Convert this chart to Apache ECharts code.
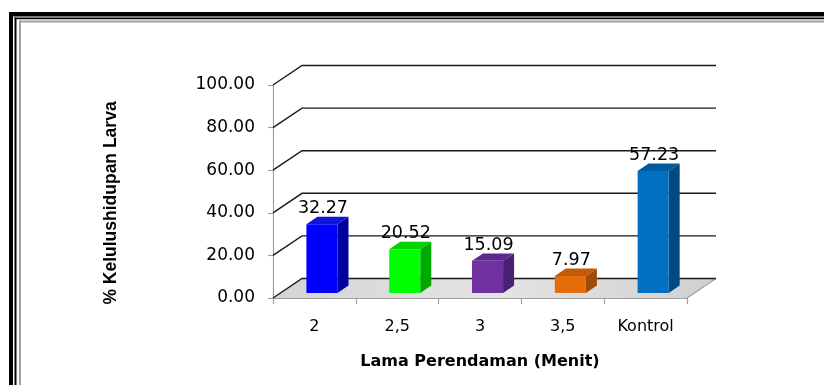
<!DOCTYPE html>
<html>
<head>
<meta charset="utf-8">
<script src="https://cdn.jsdelivr.net/npm/echarts@6/dist/echarts.min.js"></script>
<style>
  html, body { margin: 0; padding: 0; background: #ffffff; }
  #chart { width: 824px; height: 385px; }
</style>
</head>
<body>
<div id="chart"></div>
<script>
// Larva survival (%) by soaking time
const categories = ['2', '2,5', '3', '3,5', 'Kontrol'];
const survival = [32.27, 20.52, 15.09, 7.97, 57.23];
const yTicks = [0, 20, 40, 60, 80, 100];
const yTitle = '% Kelulushidupan Larva';
const xTitle = 'Lama Perendaman (Menit)';

// bar palette: front face, side face, top face
const faceColors = ['#0000ff', '#00ff00', '#7030a0', '#e46c0a', '#0070c0'];
const sideColors = ['#00009e', '#00a800', '#4a2070', '#a04c06', '#004a80'];
const topColors  = ['#1414d6', '#00d400', '#5e2890', '#c25a08', '#005c9e'];

// oblique depth of the plot box (back wall offset from front)
const DEPTH_X = 29;
const DEPTH_Y = -19.5;
const BAR_FRONT = 0.26;  // bar front face depth fraction
const BAR_BACK = 0.64;   // bar back face depth fraction
const BAR_WIDTH = 0.375; // share of a category band

const chart = echarts.init(document.getElementById('chart'), null, { renderer: 'canvas' });

function renderFloor(params, api) {
  const cs = params.coordSys;
  const y0 = api.coord([0, 0])[1];
  const xl = cs.x, xr = cs.x + cs.width;
  return {
    type: 'group',
    children: [
      {
        type: 'polygon',
        shape: { points: [[xl, y0], [xr, y0], [xr + DEPTH_X, y0 + DEPTH_Y], [xl + DEPTH_X, y0 + DEPTH_Y]] },
        style: {
          fill: new echarts.graphic.LinearGradient(0, 0, 1, 1, [
            { offset: 0, color: '#d4d4d4' },
            { offset: 0.5, color: '#e4e4e4' },
            { offset: 1, color: '#d0d0d0' }
          ]),
          stroke: null
        }
      },
      {
        type: 'line',
        shape: { x1: xr, y1: y0, x2: xr + DEPTH_X, y2: y0 + DEPTH_Y },
        style: { stroke: '#a0a0a0', lineWidth: 1.2 }
      }
    ]
  };
}

function renderWall(params, api) {
  const cs = params.coordSys;
  const y = api.coord([0, api.value(1)])[1];
  const xl = cs.x, xr = cs.x + cs.width;
  return {
    type: 'polyline',
    shape: { points: [[xl, y], [xl + DEPTH_X, y + DEPTH_Y], [xr + DEPTH_X, y + DEPTH_Y]] },
    style: { stroke: '#1a1a1a', lineWidth: 1.4, fill: null }
  };
}

function renderBar(params, api) {
  const i = params.dataIndex;
  const cat = api.value(0);
  const v = api.value(1);
  const base = api.coord([cat, 0]);
  const top = api.coord([cat, v]);
  const bw = api.size([1, 0])[0] * BAR_WIDTH;
  const fx = DEPTH_X * BAR_FRONT, fy = DEPTH_Y * BAR_FRONT;
  const sx = DEPTH_X * (BAR_BACK - BAR_FRONT), sy = DEPTH_Y * (BAR_BACK - BAR_FRONT);
  const x0 = base[0] + fx - bw / 2;
  const x1 = x0 + bw;
  const yb = base[1] + fy;
  const yt = top[1] + fy;
  return {
    type: 'group',
    children: [
      {
        type: 'polygon',
        shape: { points: [[x1, yt], [x1 + sx, yt + sy], [x1 + sx, yb + sy], [x1, yb]] },
        style: { fill: sideColors[i] }
      },
      {
        type: 'polygon',
        shape: { points: [[x0, yt], [x1, yt], [x1 + sx, yt + sy], [x0 + sx, yt + sy]] },
        style: { fill: topColors[i] }
      },
      {
        type: 'rect',
        shape: { x: x0, y: yt, width: bw, height: yb - yt },
        style: { fill: faceColors[i] }
      },
      {
        type: 'text',
        style: {
          text: v.toFixed(2),
          x: (x0 + x1) / 2 + 1,
          y: yt + sy + 1,
          align: 'center',
          verticalAlign: 'bottom',
          fill: '#000000',
          font: '17.5px "DejaVu Sans"'
        }
      }
    ]
  };
}

const option = {
  backgroundColor: '#ffffff',
  animation: false,
  grid: { left: 273, top: 85, width: 414, height: 213, containLabel: false },
  xAxis: {
    type: 'category',
    data: categories,
    boundaryGap: true,
    axisLine: { lineStyle: { color: '#a0a0a0', width: 1.2 } },
    axisTick: { show: true, interval: 0, length: 6, lineStyle: { color: '#a0a0a0', width: 1.2 } },
    axisLabel: { color: '#000000', fontFamily: 'DejaVu Sans', fontSize: 16, margin: 21 },
    splitLine: { show: false },
    name: xTitle,
    nameLocation: 'middle',
    nameGap: 56,
    nameTextStyle: { color: '#000000', fontFamily: 'DejaVu Sans', fontWeight: 'bold', fontSize: 16 }
  },
  yAxis: {
    type: 'value',
    min: 0,
    max: 100,
    interval: 20,
    axisLine: { show: true, lineStyle: { color: '#a0a0a0', width: 1.2 } },
    axisTick: { show: true, length: 5, lineStyle: { color: '#a0a0a0', width: 1.2 } },
    axisLabel: {
      color: '#000000', fontFamily: 'DejaVu Sans', fontSize: 17, margin: 18,
      formatter: (val) => val.toFixed(2)
    },
    splitLine: { show: false }
  },
  graphic: [
    // page frame: thick outer rule, thin inner rule, grey shadow line
    { type: 'rect', silent: true, shape: { x: 9, y: 12, width: 815, height: 4.5 }, style: { fill: '#000000' } },
    { type: 'rect', silent: true, shape: { x: 9, y: 12, width: 4, height: 373 }, style: { fill: '#000000' } },
    { type: 'rect', silent: true, shape: { x: 14.5, y: 17.5, width: 810, height: 1.8 }, style: { fill: '#000000' } },
    { type: 'rect', silent: true, shape: { x: 14.5, y: 17.5, width: 2, height: 368 }, style: { fill: '#000000' } },
    { type: 'rect', silent: true, shape: { x: 19, y: 20.5, width: 805, height: 2 }, style: { fill: '#a0a0a0' } },
    { type: 'rect', silent: true, shape: { x: 19, y: 20.5, width: 2, height: 365 }, style: { fill: '#a0a0a0' } },
    // vertical axis title
    {
      type: 'text',
      silent: true,
      x: 111,
      y: 203,
      rotation: Math.PI / 2,
      style: {
        text: yTitle,
        align: 'center',
        verticalAlign: 'middle',
        fill: '#000000',
        font: 'bold 17.5px "Liberation Sans"'
      }
    }
  ],
  series: [
    {
      type: 'custom',
      name: 'floor',
      z: 1,
      clip: false,
      silent: true,
      renderItem: renderFloor,
      data: [[0, 0]],
      encode: { x: 0, y: 1 }
    },
    {
      type: 'custom',
      name: 'wall',
      z: 2,
      clip: false,
      silent: true,
      renderItem: renderWall,
      data: yTicks.map((t) => [0, t]),
      encode: { x: 0, y: 1 }
    },
    {
      type: 'custom',
      name: 'survival',
      z: 3,
      clip: false,
      renderItem: renderBar,
      data: survival.map((v, i) => [i, v]),
      encode: { x: 0, y: 1 }
    }
  ]
};

chart.setOption(option);
</script>
</body>
</html>
